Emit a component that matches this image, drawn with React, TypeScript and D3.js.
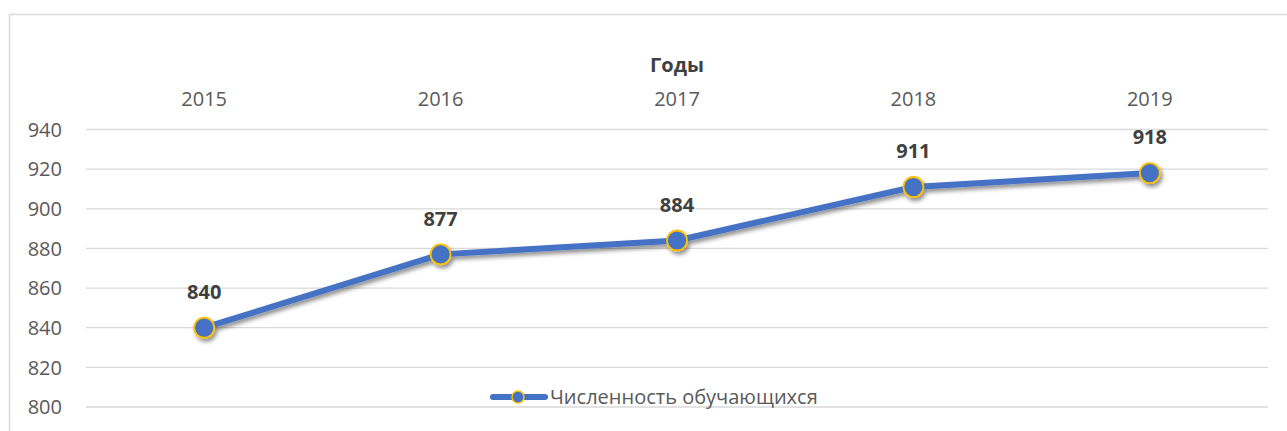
import React from "react";
import * as d3 from "d3";

const years = ["2015", "2016", "2017", "2018", "2019"];
const students = [840, 877, 884, 911, 918];
const yTicks = [800, 820, 840, 860, 880, 900, 920, 940];
const seriesName = "Численность обучающихся";
const axisTitle = "Годы";

const W = 1287;
const H = 431;
const FONT = "'Open Sans', 'Noto Sans', sans-serif";

export default function App() {
  const x = d3.scalePoint<string>().domain(years).range([86, 1268]).padding(0.5);
  const y = d3.scaleLinear().domain([800, 940]).range([407, 129.5]);
  const line = d3
    .line<number>()
    .x((_, i) => x(years[i]) as number)
    .y((d) => y(d));

  return (
    <svg
      width={W}
      height={H}
      style={{ position: "absolute", left: 0, top: 0, background: "#fff" }}
      fontFamily={FONT}
    >
      <defs>
        <filter id="sh" x="-20%" y="-50%" width="140%" height="200%">
          <feDropShadow dx="2" dy="3" stdDeviation="2.2" floodColor="#000" floodOpacity="0.45" />
        </filter>
      </defs>
      {/* chart border */}
      <line x1={9.5} x2={W} y1={14.5} y2={14.5} stroke="#d9d9d9" strokeWidth={1.5} />
      <line x1={9.5} x2={9.5} y1={14.5} y2={H} stroke="#d9d9d9" strokeWidth={1.5} />

      {/* gridlines & y labels */}
      {yTicks.map((t) => (
        <g key={t}>
          <line x1={86} x2={1268} y1={y(t)} y2={y(t)} stroke="#d9d9d9" strokeWidth={1.3} />
          <text x={62} y={y(t)} dy="0.36em" textAnchor="end" fontSize={20} fill="#595959">
            {t}
          </text>
        </g>
      ))}

      {/* axis title & x labels (top) */}
      <text x={677} y={65} dy="0.36em" textAnchor="middle" fontSize={20} fontWeight="bold" fill="#404040">
        {axisTitle}
      </text>
      {years.map((yr) => (
        <text key={yr} x={x(yr)} y={99} dy="0.36em" textAnchor="middle" fontSize={20} fill="#595959">
          {yr}
        </text>
      ))}

      {/* series */}
      <g filter="url(#sh)">
        <path d={line(students) || ""} fill="none" stroke="#4472C4" strokeWidth={6} strokeLinejoin="round" strokeLinecap="round" />
        {students.map((v, i) => (
          <circle key={i} cx={x(years[i])} cy={y(v)} r={10} fill="#4472C4" stroke="#FFC000" strokeWidth={1.8} />
        ))}
      </g>

      {/* data labels */}
      {students.map((v, i) => (
        <text key={i} x={x(years[i])} y={y(v) - 36} dy="0.36em" textAnchor="middle" fontSize={20} fontWeight="bold" fill="#404040">
          {v}
        </text>
      ))}

      {/* legend */}
      <g>
        <line x1={493} x2={545} y1={397} y2={397} stroke="#4472C4" strokeWidth={6} strokeLinecap="round" />
        <circle cx={518} cy={397} r={6} fill="#4472C4" stroke="#FFC000" strokeWidth={1.5} />
        <text x={550} y={397} dy="0.36em" fontSize={20} fill="#595959">
          {seriesName}
        </text>
      </g>
    </svg>
  );
}
